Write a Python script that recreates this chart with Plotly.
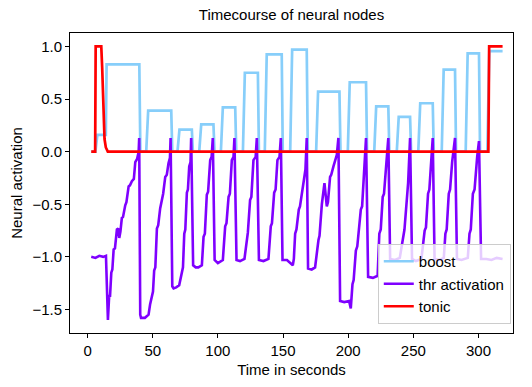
import plotly.graph_objects as go

TITLE = 'Timecourse of neural nodes'
X_LABEL = 'Time in seconds'
Y_LABEL = 'Neural activation'
X_TICKS = [0, 50, 100, 150, 200, 250, 300]
Y_TICKS = [-1.5, -1.0, -0.5, 0.0, 0.5, 1.0]

# boost blocks: start of rise, end of plateau, plateau level
BOOST_START = [6.0, 14.0, 45.0, 69.0, 85.7, 102.3, 119.2, 136.0, 155.5, 175.4,
               199.7, 220.0, 237.3, 253.8, 271.8, 290.2, 306.8]
BOOST_END = [14.0, 39.7, 64.2, 80.0, 96.6, 113.3, 130.7, 149.0, 168.2, 193.3,
             213.7, 230.8, 247.5, 264.9, 282.0, 300.4, 318.5]
BOOST_LEVEL = [0.16, 0.83, 0.39, 0.21, 0.26, 0.42, 0.75, 0.925, 0.97, 0.57,
               0.66, 0.43, 0.33, 0.46, 0.78, 0.935, 0.955]

TONIC_T = [2.8, 5.8, 6.2, 10.5, 11.2, 11.8, 12.3, 13.0, 14.0, 15.5, 307.6, 308.2, 318.5]
TONIC_V = [0.0, 0.0, 1.0, 1.0, 0.8, 0.5, 0.25, 0.12, 0.04, 0.0, 0.0, 1.0, 1.0]

THR_T = [2.8, 6, 9, 12, 14.1, 15.6, 16.6, 17.2, 18.2, 19, 20, 21, 22.5, 23.5, 24.3, 25.2,
         26.3, 27.2, 28.9, 29.8, 31.5, 32.5, 34, 35.5, 36.6, 38, 39.2, 39.6,
         40.4, 41, 44, 46.8, 48, 49.4, 50.2, 51.1, 52, 53.2, 54.2, 55.7, 56.5, 58,
         59.6, 60.8, 62.1, 63.2, 63.7,
         65.0, 66, 68, 70.3, 72.4, 73.2, 74.2, 75, 76.2, 77, 78, 79.0, 79.5,
         81.0, 83, 85, 87.7, 89, 90, 91.5, 92.5, 94.1, 95.2, 96.1,
         97.5, 100, 103.8, 105.6, 106.6, 108.2, 109.2, 110.7, 112, 112.7,
         114.3, 117, 120.4, 122.2, 123, 124.7, 125.7, 127.3, 129, 129.9,
         131.5, 135, 138.8, 140.6, 141.5, 143.2, 144.3, 145.7, 147.3, 148.3,
         149.6, 153, 157.5, 158.3, 159.3, 160.3, 162.1, 163, 164.6, 165.6, 167.2, 168.2,
         169.2, 172, 174.6, 177.2, 178, 179.8, 181.8, 183.6, 184.5, 186.1, 187, 188.7,
         191.3, 192.5,
         193.8, 197, 200.7, 202, 203.3, 204.2, 205.9, 207, 209.7, 210.7, 212.3, 213.7,
         215.3, 219, 222.6, 223.9, 225, 226.5, 227.5, 229.1, 230.8,
         232.2, 236, 239.6, 242.2, 243.2, 246, 247.5,
         249, 252, 256.2, 258.7, 259.7, 261.3, 262.3, 263.1, 264.9,
         266.3, 270, 273.4, 274.6, 275.6, 277.2, 278.2, 279.8, 282,
         283.5, 287, 291.8, 293.1, 294.1, 295.7, 297, 299, 300.4,
         302, 306, 310, 314, 318.5]
THR_V = [-1.00, -1.01, -0.99, -1.00, -0.99, -1.60, -1.36, -1.38, -1.15, -1.12, -0.93, -0.92,
         -0.74, -0.73, -0.82, -0.76, -0.63, -0.62, -0.51, -0.48, -0.33, -0.32, -0.28, -0.26,
         -0.10, -0.07, 0.00, 0.13,
         -1.55, -1.58, -1.58, -1.55, -1.45, -1.35, -1.33, -1.13, -1.10, -0.73, -0.70, -0.54,
         -0.50, -0.40, -0.24, -0.22, -0.11, -0.06, 0.13,
         -1.28, -1.30, -1.29, -1.27, -1.16, -1.10, -0.78, -0.74, -0.39, -0.36, -0.14, -0.10, 0.13,
         -1.08, -1.10, -1.10, -1.08, -0.81, -0.78, -0.41, -0.38, -0.08, -0.05, 0.13,
         -1.03, -1.06, -1.03, -0.71, -0.68, -0.43, -0.40, -0.08, -0.05, 0.13,
         -1.03, -1.04, -1.02, -0.81, -0.77, -0.46, -0.43, -0.08, -0.05, 0.13,
         -1.03, -1.04, -1.02, -0.71, -0.68, -0.39, -0.36, -0.08, -0.05, 0.13,
         -1.03, -1.03, -1.08, -1.02, -0.78, -0.74, -0.55, -0.52, -0.38, -0.34, -0.17, 0.13,
         -1.11, -1.12, -1.10, -0.84, -0.80, -0.50, -0.30, -0.52, -0.48, -0.24, -0.22, -0.14,
         -0.03, 0.13,
         -1.42, -1.43, -1.42, -1.49, -1.26, -1.22, -0.94, -0.90, -0.55, -0.52, -0.17, 0.13,
         -1.19, -1.20, -1.18, -0.78, -0.74, -0.43, -0.40, -0.17, 0.13,
         -1.02, -1.03, -1.01, -0.78, -0.74, -0.30, 0.13,
         -1.02, -1.04, -1.02, -0.75, -0.72, -0.40, -0.36, -0.17, 0.13,
         -1.02, -1.03, -1.01, -0.78, -0.74, -0.40, -0.36, -0.10, 0.13,
         -1.02, -1.03, -1.01, -0.78, -0.74, -0.40, -0.36, -0.05, 0.10,
         -1.02, -1.02, -1.03, -1.01, -1.02]

FONT = 'Liberation Sans, Arial, sans-serif'


def boost_series():
    ts, vs = [2.8], [0.0]
    for start, end, level in zip(BOOST_START, BOOST_END, BOOST_LEVEL):
        if ts[-1] < start:
            ts.append(start)
            vs.append(0.0)
        ts += [start + 0.6 if vs[-1] > 0 else start + 1.5, end]
        vs += [level, level]
        if end < BOOST_END[-1] and end not in BOOST_START:
            ts.append(end + 0.8)
            vs.append(0.0)
    return ts, vs


def main():
    boost_t, boost_v = boost_series()
    fig = go.Figure()
    fig.add_trace(go.Scatter(x=boost_t, y=boost_v, mode='lines', name='boost',
                             line={'color': '#87cefa', 'width': 2.7}))
    fig.add_trace(go.Scatter(x=THR_T, y=THR_V, mode='lines', name='thr activation',
                             line={'color': '#7f00ff', 'width': 2.6}))
    fig.add_trace(go.Scatter(x=TONIC_T, y=TONIC_V, mode='lines', name='tonic',
                             line={'color': '#ff0000', 'width': 2.7}))

    axis = dict(showline=True, mirror=True, linecolor='black', linewidth=1, ticks='outside',
                ticklen=4, tickcolor='black', showgrid=False, zeroline=False,
                tickfont={'size': 15, 'color': 'black'})
    fig.update_xaxes(range=[-13.5, 326.5], tickvals=X_TICKS, title={'text': X_LABEL, 'standoff': 6,
                     'font': {'size': 15, 'color': 'black'}}, **axis)
    fig.update_yaxes(range=[-1.724, 1.128], tickvals=Y_TICKS, tickformat='.1f',
                     title={'text': Y_LABEL, 'standoff': 6, 'font': {'size': 15, 'color': 'black'}}, **axis)
    fig.update_layout(
        width=532, height=387,
        margin={'l': 70, 'r': 19, 't': 33, 'b': 54},
        paper_bgcolor='white', plot_bgcolor='white',
        font={'family': FONT, 'size': 15, 'color': 'black'},
        title={'text': TITLE, 'x': 0.548, 'xanchor': 'center', 'y': 0.962, 'yanchor': 'middle',
               'font': {'size': 15}},
        legend={'x': 0.995, 'xanchor': 'right', 'y': 0.03, 'yanchor': 'bottom',
                'bgcolor': 'rgba(255,255,255,0.8)', 'bordercolor': '#cccccc', 'borderwidth': 1,
                'font': {'size': 15}},
        showlegend=True,
    )
    fig.write_html('out.html', config={'displayModeBar': False},
                   post_script="document.body.style.margin='0';")


if __name__ == '__main__':
    main()
